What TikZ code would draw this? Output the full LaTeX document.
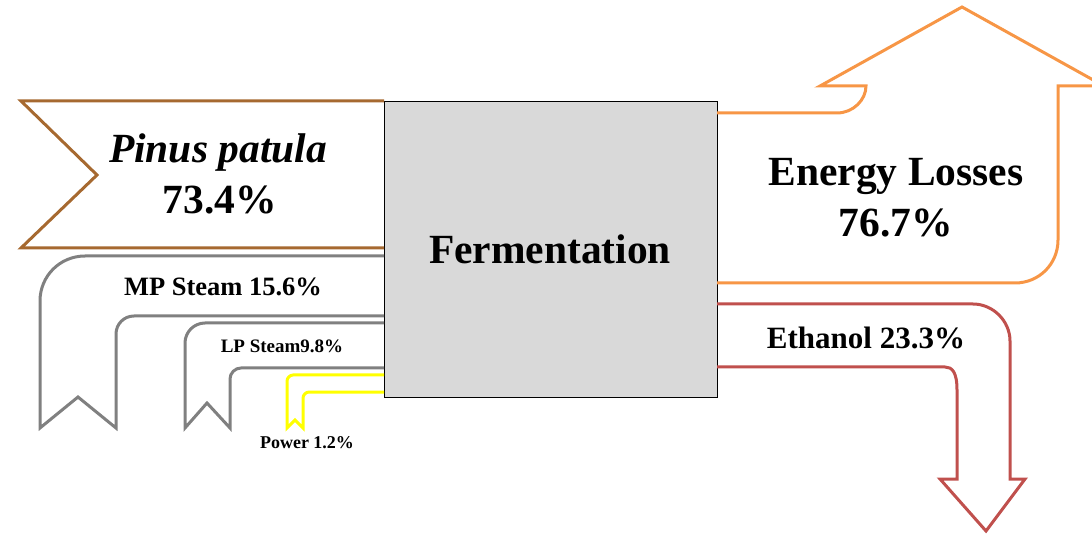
\documentclass[tikz,border=0pt]{standalone}
\usepackage{fontspec}
\setmainfont{Liberation Serif}
\definecolor{bandbrown}{RGB}{166,105,48}
\definecolor{bandgray}{RGB}{128,128,128}
\definecolor{bandyellow}{RGB}{255,255,0}
\definecolor{bandorange}{RGB}{247,150,70}
\definecolor{bandred}{RGB}{192,80,77}
\definecolor{boxgray}{RGB}{217,217,217}
\tikzset{
  band/.style={line width=3pt, line join=miter},
  lbl/.style={anchor=base, inner sep=0pt, font=\bfseries},
}
\begin{document}
\begin{tikzpicture}[x=1pt,y=-1pt]
\useasboundingbox (0,0) rectangle (1092,534);
\clip (0,0) rectangle (1092,534);
% process box
\node[draw=black, line width=1.2pt, fill=boxgray, minimum width=333pt, minimum height=296pt, anchor=north west, inner sep=0pt] (fer) at (384,101) {};
\node[lbl, font=\bfseries\fontsize{41.5}{48}\selectfont] (fert) at (550,264) {Fermentation};
% Pinus patula input
\draw[band, bandbrown] (384,101) -- (21,101) -- (97,175) -- (21,248) -- (384,248);
\node[lbl, font=\bfseries\itshape\fontsize{41.5}{48}\selectfont] (pp) at (218,163) {Pinus patula};
\node[lbl, font=\bfseries\fontsize{41.5}{48}\selectfont] (ppv) at (220,214) {73.4\%};
% MP steam
\draw[band, bandgray] (384,256) -- (85,256) .. controls (60,256) and (40,276) .. (40,301) -- (40,428) -- (78,397) -- (116,428) -- (116,334) .. controls (116,324) and (124,316) .. (134,316) -- (384,316);
\node[lbl, font=\bfseries\fontsize{26.5}{32}\selectfont] (mp) at (223,296) {MP Steam 15.6\%};
% LP steam
\draw[band, bandgray] (384,323) -- (205,323) .. controls (194,323) and (185,332) .. (185,343) -- (185,428) -- (207,403) -- (230,428) -- (230,379) .. controls (230,373) and (235,368) .. (241,368) -- (384,368);
\node[lbl, font=\bfseries\fontsize{19}{23}\selectfont] (lp) at (282,353) {LP Steam9.8\%};
% Power
\draw[band, bandyellow] (384,375) -- (293,375) .. controls (290,375) and (287,378) .. (287,381) -- (287,428) -- (295,420) -- (303,428) -- (303,398) .. controls (303,395) and (306,392) .. (309,392) -- (384,392);
\node[lbl, font=\bfseries\fontsize{18}{22}\selectfont] (pw) at (307,448) {Power 1.2\%};
% Energy losses
\draw[band, bandorange] (717,113) -- (837,113) .. controls (853,113) and (866,100) .. (866,86) -- (820,86) -- (962,7) -- (1104,86) -- (1058,86) -- (1058,240) .. controls (1058,264) and (1039,283) .. (1015,283) -- (717,283);
\node[lbl, font=\bfseries\fontsize{41.5}{48}\selectfont] (el) at (896,186) {Energy Losses};
\node[lbl, font=\bfseries\fontsize{41.5}{48}\selectfont] (elv) at (896,237) {76.7\%};
% Ethanol
\draw[band, bandred] (717,304) -- (973,304) .. controls (993,304) and (1010,321) .. (1010,341) -- (1010,479) -- (1025,479) -- (986,531) -- (940,479) -- (957,479) -- (957,390) .. controls (957,372) and (952,367) .. (945,367) -- (717,367);
\node[lbl, font=\bfseries\fontsize{31}{37}\selectfont] (et) at (866,349) {Ethanol 23.3\%};
\end{tikzpicture}
\end{document}
